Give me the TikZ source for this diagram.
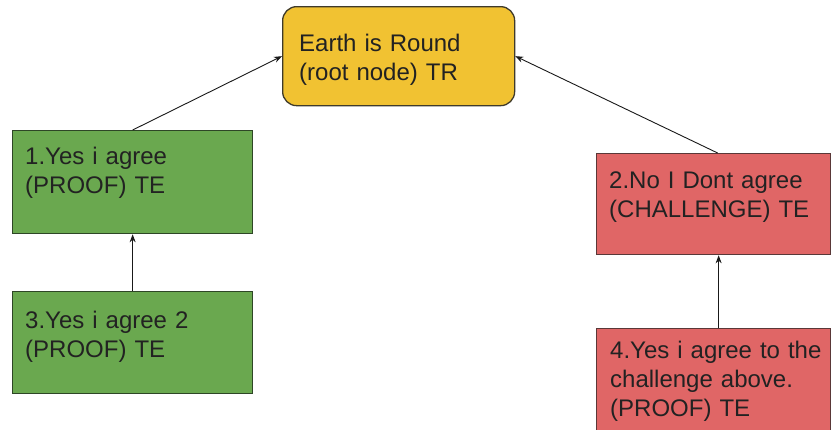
\documentclass[tikz,border=0pt]{standalone}
\usepackage{fontspec}
\setmainfont{Liberation Sans}
\usetikzlibrary{arrows.meta,calc}
\definecolor{ylw}{HTML}{F1C232}
\definecolor{ylwb}{HTML}{3F3A2A}
\definecolor{grn}{HTML}{6AA84F}
\definecolor{grnb}{HTML}{2E4626}
\definecolor{rd}{HTML}{E06666}
\definecolor{rdb}{HTML}{5A3838}
\definecolor{txtc}{HTML}{222222}
\begin{document}
\begin{tikzpicture}[x=1pt,y=-1pt,
  boxbase/.style={line width=1.3pt, inner sep=0pt, anchor=north west},
  rootbox/.style={boxbase, draw=ylwb, fill=ylw, rounded corners=14pt},
  greenbox/.style={boxbase, draw=grnb, fill=grn},
  redbox/.style={boxbase, draw=rdb, fill=rd},
  txt/.style={anchor=base west, inner sep=0pt, text width=230pt, align=left,
    font=\fontsize{24}{29}\selectfont, text=txtc},
  conn/.style={line width=0.9pt, draw=black!90, -{Stealth[length=8pt,width=6pt]}}]
\useasboundingbox (0,0) rectangle (831,429);
\fill[white] (0,0) rectangle (831,429);

\node[rootbox, minimum width=232pt, minimum height=99pt] (root) at (282,6) {};
\node[greenbox, minimum width=240pt, minimum height=103pt] (b1) at (12,130) {};
\node[greenbox, minimum width=240pt, minimum height=102pt] (b3) at (12,291) {};
\node[redbox, minimum width=234pt, minimum height=101pt] (b2) at (596,153) {};
\node[redbox, minimum width=234pt, minimum height=120pt] (b4) at (596,328) {};

\node[txt] (t0) at (299,51) {Earth is Round\\(root node) TR};
\node[txt] (t1) at (25,164) {1.Yes i agree\\(PROOF) TE};
\node[txt] (t3) at (25,328) {3.Yes i agree 2\\(PROOF) TE};
\node[txt] (t2) at (609,188) {2.No I Dont agree\\(CHALLENGE) TE};
\node[txt] (t4) at (610,358) {4.Yes i agree to the\\challenge above.\\(PROOF) TE};

\draw[conn] (b1.north) -- (root.west);
\draw[conn] ([xshift=4pt]b2.north) -- (root.east);
\draw[conn] (b3.north) -- (b1.south);
\draw[conn] ([xshift=5pt]b4.north) -- ([xshift=5pt]b2.south);
\end{tikzpicture}
\end{document}
